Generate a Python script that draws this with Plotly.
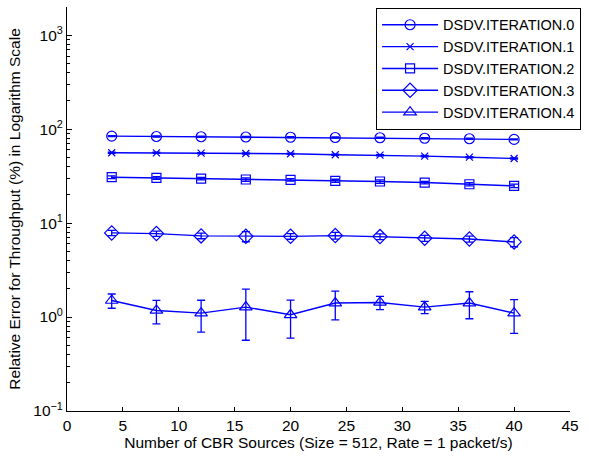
import plotly.graph_objects as go

x = [4, 8, 12, 16, 20, 24, 28, 32, 36, 40]

it0 = [84.3, 83.5, 83.0, 82.5, 82.0, 81.5, 81.0, 80.0, 79.0, 77.8]
it0_err = [1.0, 1.0, 1.0, 1.0, 1.0, 1.0, 1.0, 1.0, 1.0, 1.0]
it1 = [56.1, 56.0, 55.5, 55.1, 54.7, 53.4, 52.8, 51.6, 50.3, 48.7]
it1_err = [0.8, 0.8, 0.8, 0.8, 0.8, 0.8, 0.8, 0.8, 0.8, 0.8]
it2 = [30.8, 30.3, 29.8, 29.1, 28.9, 28.2, 27.7, 27.0, 25.9, 24.9]
it2_err = [1.0, 1.0, 0.9, 1.2, 0.9, 1.1, 1.2, 0.8, 1.0, 1.1]
it3 = [7.86, 7.73, 7.31, 7.23, 7.23, 7.36, 7.18, 6.89, 6.78, 6.30]
it3_err = [0.5, 0.5, 0.5, 0.9, 0.5, 0.6, 0.5, 0.5, 0.5, 0.7]
it4 = [1.50, 1.175, 1.10, 1.276, 1.057, 1.409, 1.43, 1.276, 1.409, 1.10]
it4_err = [0.26, 0.33, 0.41, 0.71, 0.46, 0.475, 0.23, 0.19, 0.45, 0.43]

x_ticks = [0, 5, 10, 15, 20, 25, 30, 35, 40, 45]
y_major = [0.1, 1, 10, 100, 1000]
y_major_text = ["10<sup>−1</sup>", "10<sup>0</sup>", "10<sup>1</sup>", "10<sup>2</sup>", "10<sup>3</sup>"]
y_minor = [m * d for d in [0.1, 1, 10, 100, 1000] for m in range(2, 10)]

series = [
    ("DSDV.ITERATION.0", it0, it0_err, "circle-open", 10),
    ("DSDV.ITERATION.1", it1, it1_err, "x-thin-open", 7),
    ("DSDV.ITERATION.2", it2, it2_err, "square-open", 9),
    ("DSDV.ITERATION.3", it3, it3_err, "diamond-open", 11),
    ("DSDV.ITERATION.4", it4, it4_err, "triangle-up-open", 11),
]

blue = "#0000ff"
fig = go.Figure()
for name, yv, ev, sym, sz in series:
    fig.add_trace(go.Scatter(
        x=x, y=yv, name=name, mode="lines+markers",
        line=dict(color=blue, width=1.4),
        marker=dict(symbol=sym, size=sz, color=blue, line=dict(color=blue, width=1.2)),
        error_y=dict(type="data", array=ev, visible=True, color=blue, thickness=1.3, width=4),
    ))

# invisible trace on overlay axis to carry minor ticks
fig.add_trace(go.Scatter(x=[x[0]], y=[it4[0]], yaxis="y2", mode="markers",
                         marker=dict(opacity=0), showlegend=False, hoverinfo="skip"))

font = "Liberation Sans, Arial, Helvetica, sans-serif"
fs = 15.5
fig.update_layout(
    width=589, height=456,
    margin=dict(l=67, r=19, t=7, b=45),
    paper_bgcolor="white", plot_bgcolor="white",
    font=dict(family=font, size=fs, color="black"),
    showlegend=True,
    legend=dict(
        x=1.022, y=0.998, xanchor="right", yanchor="top",
        bgcolor="white", bordercolor="black", borderwidth=1,
        font=dict(size=14.5, family=font), tracegroupgap=0, itemwidth=56,
    ),
    xaxis=dict(
        range=[0, 45], tickvals=x_ticks,
        ticks="inside", ticklen=4, tickcolor="black",
        showline=True, linecolor="black", linewidth=1,
        showgrid=False, zeroline=False, mirror=False, automargin=False,
        title=dict(text="Number of CBR Sources (Size = 512, Rate = 1 packet/s)", standoff=2,
                   font=dict(size=fs)),
        tickfont=dict(size=fs),
    ),
    yaxis=dict(
        type="log", range=[-1, 3.3],
        tickvals=y_major, ticktext=y_major_text,
        ticks="inside", ticklen=5, tickcolor="black",
        showline=True, linecolor="black", linewidth=1,
        showgrid=False, zeroline=False, mirror=False, automargin=False,
        title=dict(text="Relative Error for Throughput (%) in Logarithm Scale", standoff=8,
                   font=dict(size=fs)),
        tickfont=dict(size=fs),
    ),
    yaxis2=dict(
        type="log", range=[-1, 3.3], overlaying="y", side="left", anchor="x",
        tickvals=y_minor, showticklabels=False,
        ticks="inside", ticklen=3, tickcolor="black",
        showline=False, showgrid=False, zeroline=False, automargin=False,
    ),
)

fig.write_html("out.html")
